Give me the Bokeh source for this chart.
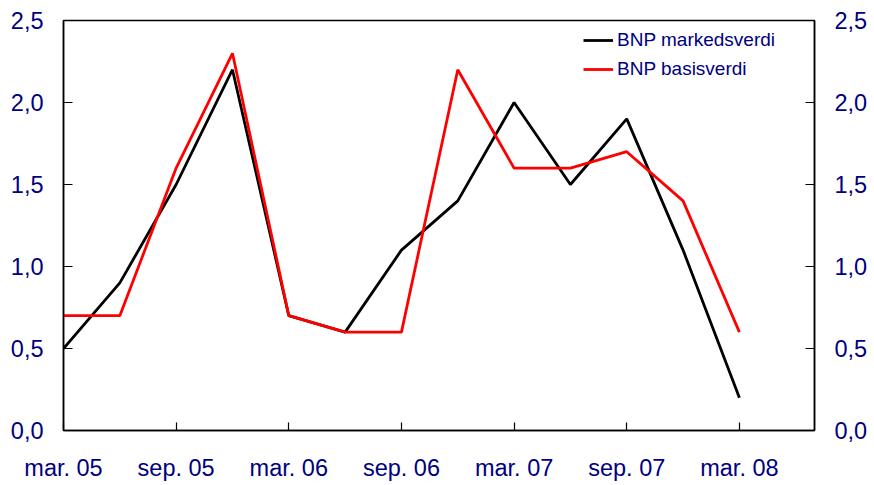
from bokeh.plotting import figure
from bokeh.models import (ColumnDataSource, LinearAxis, FixedTicker, CustomJSTickFormatter,
                          Range1d, Legend, LegendItem)
from bokeh.embed import file_html
from bokeh.resources import INLINE

# Quarterly data, months since March 2005
months = [0, 3, 6, 9, 12, 15, 18, 21, 24, 27, 30, 33, 36]
markedsverdi = [0.5, 0.9, 1.5, 2.2, 0.7, 0.6, 1.1, 1.4, 2.0, 1.5, 1.9, 1.1, 0.2]
basisverdi = [0.7, 0.7, 1.6, 2.3, 0.7, 0.6, 0.6, 2.2, 1.6, 1.6, 1.7, 1.4, 0.6]

x_tick_pos = [0, 6, 12, 18, 24, 30, 36]
x_tick_labels = ["mar. 05", "sep. 05", "mar. 06", "sep. 06", "mar. 07", "sep. 07", "mar. 08"]
y_ticks = [0.0, 0.5, 1.0, 1.5, 2.0, 2.5]

NAVY = "#000080"
FONT = "Liberation Sans"

src = ColumnDataSource(dict(x=months, m=markedsverdi, b=basisverdi))

p = figure(frame_width=751, frame_height=410, output_backend="svg", toolbar_location=None,
           x_range=Range1d(0, 40), y_range=Range1d(0, 2.5),
           min_border_left=63, min_border_right=54, min_border_top=20, min_border_bottom=52,
           background_fill_color="white", border_fill_color="white")

p.xgrid.visible = False
p.ygrid.visible = False
p.outline_line_color = "black"
p.outline_line_width = 1.5

r_m = p.line("x", "m", source=src, line_color="black", line_width=2.8)
r_b = p.line("x", "b", source=src, line_color="#ff0000", line_width=2.8)

yfmt = CustomJSTickFormatter(code="return tick.toFixed(1).replace('.', ',');")
xfmt = CustomJSTickFormatter(args=dict(pos=x_tick_pos, labels=x_tick_labels),
                             code="const i = pos.indexOf(Math.round(tick)); return i >= 0 ? labels[i] : '';")

def style_axis(ax):
    ax.axis_line_color = "black"
    ax.axis_line_width = 1.5
    ax.major_tick_line_color = "black"
    ax.major_tick_line_width = 1.2
    ax.major_tick_in = 9
    ax.major_tick_out = 0
    ax.minor_tick_line_color = None
    ax.major_label_text_color = NAVY
    ax.major_label_text_font = FONT
    ax.major_label_text_font_size = "23.5px"

xa = p.xaxis[0]
xa.ticker = FixedTicker(ticks=x_tick_pos)
xa.formatter = xfmt
style_axis(xa)
xa.major_tick_in = 8
xa.major_label_standoff = 24

ya = p.yaxis[0]
ya.ticker = FixedTicker(ticks=y_ticks)
ya.formatter = yfmt
style_axis(ya)
ya.major_label_standoff = 20

ra = LinearAxis(ticker=FixedTicker(ticks=y_ticks), formatter=yfmt)
style_axis(ra)
ra.major_label_standoff = 20
p.add_layout(ra, "right")

legend = Legend(items=[LegendItem(label="BNP markedsverdi", renderers=[r_m]),
                       LegendItem(label="BNP basisverdi", renderers=[r_b])],
                location=(520, 350), padding=0, margin=0, spacing=7,
                glyph_width=30, glyph_height=20, label_height=20, label_standoff=4,
                label_text_font=FONT, label_text_font_size="19px", label_text_color=NAVY,
                border_line_color=None, background_fill_alpha=0)
p.add_layout(legend, "center")

open("out.html", "w").write(file_html(p, INLINE))
